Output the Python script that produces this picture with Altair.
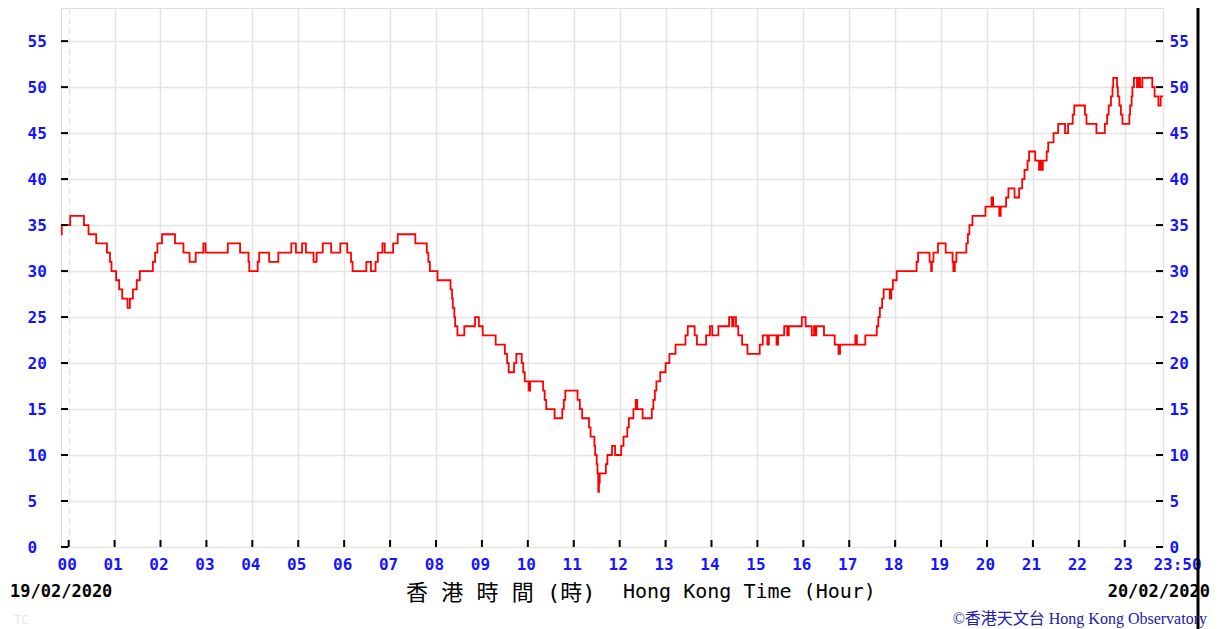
import json
import altair as alt
import pandas as pd

# ---- data (minutes after 00:00 on 19/02/2020 where the reading changes, value from then on)
change_minutes = [-10, -9, 2, 20, 26, 36, 50, 54, 56, 62, 66, 70, 77, 80, 84, 89, 93, 110, 113, 116,
                  122, 139, 150, 158, 166, 176, 179, 208, 224, 235, 236, 247, 249, 262, 274, 291, 297,
                  305, 310, 320, 324, 332, 343, 355, 364, 369, 371, 389, 395, 401, 404, 410, 413, 424,
                  430, 453, 468, 470, 472, 482, 499, 501, 502, 504, 505, 508, 517, 531, 536, 541, 558,
                  570, 573, 575, 582, 585, 592, 594, 596, 601, 603, 620, 622, 624, 635, 645, 647, 649,
                  665, 668, 671, 680, 682, 687, 688, 690, 691, 692, 693, 694, 702, 704, 710, 714, 722,
                  725, 730, 732, 738, 741, 743, 750, 762, 764, 766, 768, 773, 780, 785, 793, 806, 809,
                  818, 821, 833, 838, 841, 849, 863, 867, 869, 872, 875, 880, 887, 903, 907, 913, 915,
                  925, 927, 935, 939, 941, 958, 963, 971, 974, 976, 977, 987, 1001, 1006, 1008, 1028,
                  1030, 1041, 1056, 1058, 1060, 1063, 1065, 1073, 1075, 1077, 1082, 1108, 1110, 1125,
                  1127, 1128, 1130, 1136, 1146, 1155, 1156, 1158, 1160, 1173, 1175, 1177, 1181, 1198,
                  1206, 1208, 1216, 1218, 1225, 1228, 1236, 1242, 1246, 1249, 1253, 1255, 1263, 1268,
                  1270, 1271, 1273, 1278, 1280, 1287, 1293, 1302, 1306, 1312, 1314, 1328, 1330, 1343,
                  1354, 1357, 1359, 1362, 1364, 1365, 1370, 1371, 1373, 1375, 1377, 1386, 1387, 1389,
                  1390, 1392, 1396, 1398, 1400, 1403, 1416, 1419, 1424, 1427, 1430]
change_values = [34, 35, 36, 35, 34, 33, 32, 31, 30, 29, 28, 27, 26, 27, 28, 29, 30, 31, 32, 33,
                 34, 33, 32, 31, 32, 33, 32, 33, 32, 31, 30, 31, 32, 31, 32, 33, 32,
                 33, 32, 31, 32, 33, 32, 33, 32, 31, 30, 31, 30, 31, 32, 33, 32, 33,
                 34, 33, 32, 31, 30, 29, 28, 27, 26, 25, 24, 23, 24, 25, 24, 23, 22,
                 21, 20, 19, 20, 21, 20, 19, 18, 17, 18, 17, 16, 15, 14, 15, 16, 17,
                 16, 15, 14, 13, 12, 11, 10, 9, 8, 6, 7, 8, 9, 10, 11, 10, 11,
                 12, 13, 14, 15, 16, 15, 14, 15, 16, 17, 18, 19, 20, 21, 22, 23, 24,
                 23, 22, 23, 24, 23, 24, 25, 24, 25, 24, 23, 22, 21, 22, 23, 22, 23,
                 22, 23, 24, 23, 24, 25, 24, 23, 24, 23, 24, 23, 22, 21, 22, 23,
                 22, 23, 24, 25, 26, 27, 28, 27, 28, 29, 30, 31, 32, 31,
                 30, 31, 32, 33, 32, 31, 30, 31, 32, 33, 34, 35, 36, 37,
                 38, 37, 36, 37, 38, 39, 38, 39, 40, 41, 42, 43, 42, 41,
                 42, 41, 42, 43, 44, 45, 46, 45, 46, 47, 48, 47, 46, 45,
                 46, 47, 48, 49, 50, 51, 50, 49, 48, 47, 46, 47, 48, 49,
                 50, 51, 50, 51, 50, 51, 50, 49, 48, 49, 49]

y_ticks = [0, 5, 10, 15, 20, 25, 30, 35, 40, 45, 50, 55]
x_tick_values = [0, 60, 120, 180, 240, 300, 360, 420, 480, 540, 600, 660, 720, 780, 840, 900,
                 960, 1020, 1080, 1140, 1200, 1260, 1320, 1380, 1430]
x_tick_labels = ["00", "01", "02", "03", "04", "05", "06", "07", "08", "09", "10", "11", "12",
                 "13", "14", "15", "16", "17", "18", "19", "20", "21", "22", "23", "23:50"]
hour_ticks = x_tick_values[:-1]

date_start = "19/02/2020"
date_end = "20/02/2020"
title_zh = "香 港 時 間 (時)"
title_en = "Hong Kong Time (Hour)"
credit = "©香港天文台 Hong Kong Observatory"

# ---- layout / style
W, H = 1102, 539
XDOM = [-10, 1430]
YDOM = [0, 58.6]
BLUE = "#1414ff"
MONO = "DejaVu Sans Mono"
GRID = "#e4e4e4"

df = pd.DataFrame({"m": change_minutes, "v": change_values})
ydf = pd.DataFrame({"t": y_ticks})
xdf = pd.DataFrame({"m": hour_ticks})

xs = alt.Scale(domain=XDOM, nice=False, zero=False)
ys = alt.Scale(domain=YDOM, nice=False, zero=False)

label_expr = f"{json.dumps(x_tick_labels)}[indexof({json.dumps(x_tick_values)}, datum.value)]"

x_axis = alt.Axis(
    values=x_tick_values, labelExpr=label_expr, title=None, grid=True,
    gridColor=GRID, gridWidth=1.5,
    gridDash={"condition": {"test": "datum.value == 0", "value": [6, 4]}, "value": []},
    tickSize=0, domain=False, labelFont=MONO, labelFontSize=16, labelFontWeight="bold",
    labelColor=BLUE, labelPadding=9, labelFlush=False, labelOverlap=False,
    labelOffset={"condition": {"test": "datum.value == 1430", "value": 14}, "value": -2},
)
y_axis_left = alt.Axis(
    values=y_ticks, title=None, grid=True, gridColor=GRID, gridWidth=1.5, tickSize=0,
    domain=False, labelFont=MONO, labelFontSize=16, labelFontWeight="bold", labelColor=BLUE,
    labelAlign="left", labelPadding=34, labelBaseline="middle", orient="left",
)
y_axis_right = alt.Axis(
    values=y_ticks, title=None, grid=False, tickSize=0, domain=False, labelFont=MONO,
    labelFontSize=16, labelFontWeight="bold", labelColor=BLUE, labelAlign="left",
    labelPadding=6, labelBaseline="middle", orient="right",
)

line = alt.Chart(df).mark_line(interpolate="step-after", color="#ff0000", strokeWidth=1.8).encode(
    x=alt.X("m:Q", scale=xs, axis=x_axis),
    y=alt.Y("v:Q", scale=ys, axis=y_axis_left),
)

right_ticks = alt.Chart(ydf).mark_rule(color="#000000", strokeWidth=2).encode(
    y=alt.Y("t:Q", scale=ys, axis=y_axis_right),
    x=alt.value(W - 7), x2=alt.value(W),
)
left_ticks = alt.Chart(ydf).mark_rule(color="#000000", strokeWidth=2).encode(
    y=alt.Y("t:Q", scale=ys, axis=None),
    x=alt.value(0), x2=alt.value(7),
)
bottom_ticks = alt.Chart(xdf).mark_rule(color="#000000", strokeWidth=2).encode(
    x=alt.X("m:Q", scale=xs, axis=x_axis),
    y=alt.value(H - 7), y2=alt.value(H),
)


def text_layer(txt, x, y, align, size, color="#000000", font=MONO, weight="normal"):
    return alt.Chart(pd.DataFrame({"t": [txt]})).mark_text(
        align=align, baseline="middle", fontSize=size, font=font, fontWeight=weight, color=color
    ).encode(text="t:N", x=alt.value(x), y=alt.value(y))


texts = [
    text_layer(date_start, -51, 584, "left", 17, weight="bold"),
    text_layer(date_end, 1149, 584, "right", 17, weight="bold"),
    text_layer(title_zh, 345, 585, "left", 22, font=MONO + ", Noto Sans CJK TC"),
    text_layer(title_en, 562, 584, "left", 20),
    text_layer(credit, 1146, 611, "right", 16, color="#2020b0",
               font="Liberation Serif, Noto Sans CJK TC"),
    text_layer("TC", -47, 612, "left", 12, color="#e6e6e6"),
]

edge = alt.Chart(pd.DataFrame({"t": [0]})).mark_rule(color="#000000", strokeWidth=3).encode(
    x=alt.value(1137), y=alt.value(-8), y2=alt.value(625)
)

chart = alt.layer(line, right_ticks, left_ticks, bottom_ticks, edge, *texts).resolve_axis(
    y="independent"
).properties(
    width=W, height=H,
    autosize=alt.AutoSizeParams(type="none"),
    padding={"left": 53, "top": 0, "right": 55, "bottom": 82},
).configure_view(
    stroke="#000000", strokeWidth=2
).configure(background="#ffffff")

chart.save("out.html", embed_options={"renderer": "svg", "actions": False})
